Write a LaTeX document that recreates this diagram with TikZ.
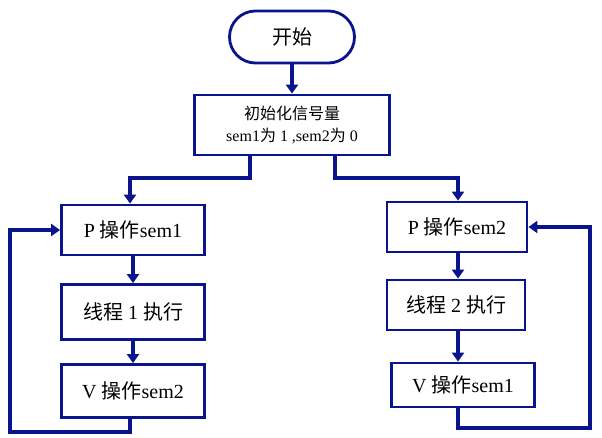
\documentclass[tikz,border=0pt]{standalone}
\usepackage{fontspec}
\setmainfont{Liberation Serif}
\newfontfamily\cjk{Noto Sans CJK SC}
\usetikzlibrary{arrows.meta}
\definecolor{ln}{RGB}{10,20,140}
\tikzset{box/.style={draw=ln,line width=2.8pt,fill=white,inner sep=0pt,font=\fontsize{20}{24}\selectfont},
 con/.style={draw=ln,line width=3.5pt,-{Triangle[length=9pt,width=12pt]}}}
\begin{document}
\begin{tikzpicture}[x=1pt,y=-1pt]
\useasboundingbox (0,0) rectangle (602,438);
\node[box,rounded corners=26pt,minimum width=125pt,minimum height=52pt] (s) at (292,37) {\cjk 开始};
\node[box,minimum width=195pt,minimum height=60pt,align=center,font=\fontsize{16}{22}\selectfont] (i) at (292,125) {{\cjk 初始化信号量}\\sem1{\cjk 为} 1 ,sem2{\cjk 为} 0};
\node[box,minimum width=143pt,minimum height=50pt] (p1) at (133,230) {P {\cjk 操作}sem1};
\node[box,minimum width=143pt,minimum height=55pt] (t1) at (133,312) {{\cjk 线程} 1 {\cjk 执行}};
\node[box,minimum width=143pt,minimum height=53pt] (v1) at (133,391) {V {\cjk 操作}sem2};
\node[box,minimum width=140pt,minimum height=50pt] (p2) at (457,227) {P {\cjk 操作}sem2};
\node[box,minimum width=138pt,minimum height=50pt] (t2) at (456,305) {{\cjk 线程} 2 {\cjk 执行}};
\node[box,minimum width=143pt,minimum height=44pt] (v2) at (463,385) {V {\cjk 操作}sem1};
\coordinate (a1) at (130,432); \coordinate (a2) at (10,432);
\coordinate (b1) at (458,428); \coordinate (b2) at (590,428);
\draw[con] (s) -- (i);
\draw[con] (i.south -| 250,0) |- (130,178) -- (p1.north -| 130,0);
\draw[con] (i.south -| 335,0) |- (458,178) -- (p2.north -| 458,0);
\draw[con] (p1) -- (t1); \draw[con] (t1) -- (v1);
\draw[con] (p2.south -| 458,0) -- (t2.north -| 458,0);
\draw[con] (t2.south -| 458,0) -- (v2.north -| 458,0);
\draw[con] (v1.south -| a1) -- (a1) -- (a2) |- (p1.west);
\draw[con] (v2.south -| b1) -- (b1) -- (b2) |- (p2.east);
\end{tikzpicture}
\end{document}
